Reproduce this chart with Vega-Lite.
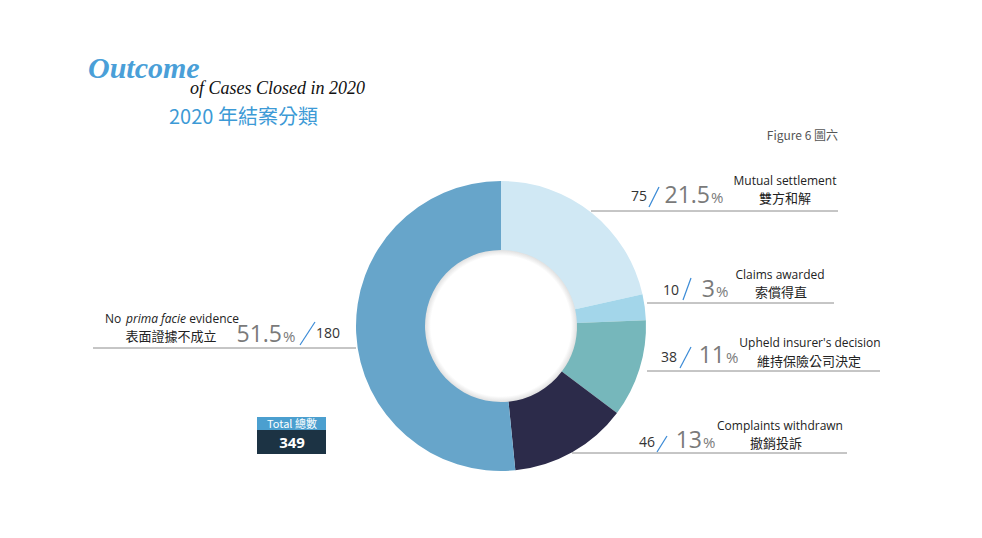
{
  "$schema": "https://vega.github.io/schema/vega-lite/v6.json",
  "width": 982,
  "height": 538,
  "padding": 0,
  "autosize": {"type": "fit", "contains": "padding"},
  "background": "white",
  "config": {"view": {"stroke": null}},
  "datasets": {
    "outcome": [
      {"idx": 1, "category": "Mutual settlement", "zh": "雙方和解", "count": 75, "pct": "21.5"},
      {"idx": 2, "category": "Claims awarded", "zh": "索償得直", "count": 10, "pct": "3"},
      {"idx": 3, "category": "Upheld insurer's decision", "zh": "維持保險公司決定", "count": 38, "pct": "11"},
      {"idx": 4, "category": "Complaints withdrawn", "zh": "撤銷投訴", "count": 46, "pct": "13"},
      {"idx": 5, "category": "No prima facie evidence", "zh": "表面證據不成立", "count": 180, "pct": "51.5"}
    ],
    "meta": [{"total": 349}]
  },
  "data": {"name": "outcome"},
  "layer": [
    {
      "data": {"name": "meta"},
      "mark": {"type": "arc", "x": 501, "y": 326, "radius": 78, "theta": 0, "theta2": 6.2832,
        "fill": {"gradient": "radial", "x1": 0.5, "y1": 0.5, "r1": 0, "x2": 0.5, "y2": 0.5, "r2": 0.5,
          "stops": [{"offset": 0, "color": "#ffffff"}, {"offset": 0.9, "color": "#ffffff"}, {"offset": 0.97, "color": "#e2e2e2"}, {"offset": 1, "color": "#cfcfcf"}]}},
      "encoding": {}
    },
    {
      "mark": {"type": "arc", "x": 501, "y": 326, "radius": 145, "innerRadius": 76},
      "encoding": {
        "theta": {"field": "count", "type": "quantitative", "stack": true},
        "order": {"field": "idx", "type": "quantitative", "sort": "ascending"},
        "color": {"field": "category", "type": "nominal", "legend": null,
          "scale": {"domain": ["Mutual settlement", "Claims awarded", "Upheld insurer's decision", "Complaints withdrawn", "No prima facie evidence"],
                    "range": ["#d0e8f4", "#a3d6ea", "#76b7bb", "#2c2b4a", "#67a5ca"]}}
      }
    },

    {"transform": [{"filter": "datum.idx==1"}], "mark": {"type": "rule", "stroke": "#8c8c8c", "strokeWidth": 1}, "encoding": {"x": {"value": 591}, "x2": {"value": 838}, "y": {"value": 211}, "y2": {"value": 211}}},
    {"transform": [{"filter": "datum.idx==1"}], "mark": {"type": "rule", "stroke": "#3a8ad6", "strokeWidth": 1.2}, "encoding": {"x": {"value": 649}, "x2": {"value": 659}, "y": {"value": 207}, "y2": {"value": 187}}},
    {"transform": [{"filter": "datum.idx==1"}], "mark": {"type": "text", "x": 647, "y": 201, "align": "right", "baseline": "alphabetic", "font": "Open Sans", "fontSize": 14, "fill": "#333333"}, "encoding": {"text": {"field": "count"}}},
    {"transform": [{"filter": "datum.idx==1"}], "mark": {"type": "text", "x": 710, "y": 203, "align": "right", "baseline": "alphabetic", "font": "Open Sans", "fontSize": 23, "fill": "#7a7a7a"}, "encoding": {"text": {"field": "pct"}}},
    {"transform": [{"filter": "datum.idx==1"}], "mark": {"type": "text", "x": 711, "y": 203, "align": "left", "baseline": "alphabetic", "font": "Open Sans", "fontSize": 15, "fill": "#7a7a7a", "text": "%"}, "encoding": {}},
    {"transform": [{"filter": "datum.idx==1"}], "mark": {"type": "text", "x": 785, "y": 185, "align": "center", "baseline": "alphabetic", "font": "Open Sans", "fontSize": 12, "fill": "#222222"}, "encoding": {"text": {"field": "category"}}},
    {"transform": [{"filter": "datum.idx==1"}], "mark": {"type": "text", "x": 785, "y": 203, "align": "center", "baseline": "alphabetic", "font": "Noto Sans CJK TC", "fontSize": 13, "fill": "#222222"}, "encoding": {"text": {"field": "zh"}}},

    {"transform": [{"filter": "datum.idx==2"}], "mark": {"type": "rule", "stroke": "#8c8c8c", "strokeWidth": 1}, "encoding": {"x": {"value": 647}, "x2": {"value": 834}, "y": {"value": 303}, "y2": {"value": 303}}},
    {"transform": [{"filter": "datum.idx==2"}], "mark": {"type": "rule", "stroke": "#3a8ad6", "strokeWidth": 1.2}, "encoding": {"x": {"value": 683}, "x2": {"value": 691}, "y": {"value": 300}, "y2": {"value": 278}}},
    {"transform": [{"filter": "datum.idx==2"}], "mark": {"type": "text", "x": 679, "y": 295, "align": "right", "baseline": "alphabetic", "font": "Open Sans", "fontSize": 14, "fill": "#333333"}, "encoding": {"text": {"field": "count"}}},
    {"transform": [{"filter": "datum.idx==2"}], "mark": {"type": "text", "x": 715, "y": 297, "align": "right", "baseline": "alphabetic", "font": "Open Sans", "fontSize": 23, "fill": "#7a7a7a"}, "encoding": {"text": {"field": "pct"}}},
    {"transform": [{"filter": "datum.idx==2"}], "mark": {"type": "text", "x": 716, "y": 297, "align": "left", "baseline": "alphabetic", "font": "Open Sans", "fontSize": 15, "fill": "#7a7a7a", "text": "%"}, "encoding": {}},
    {"transform": [{"filter": "datum.idx==2"}], "mark": {"type": "text", "x": 780, "y": 279, "align": "center", "baseline": "alphabetic", "font": "Open Sans", "fontSize": 12, "fill": "#222222"}, "encoding": {"text": {"field": "category"}}},
    {"transform": [{"filter": "datum.idx==2"}], "mark": {"type": "text", "x": 781, "y": 297, "align": "center", "baseline": "alphabetic", "font": "Noto Sans CJK TC", "fontSize": 13, "fill": "#222222"}, "encoding": {"text": {"field": "zh"}}},

    {"transform": [{"filter": "datum.idx==3"}], "mark": {"type": "rule", "stroke": "#8c8c8c", "strokeWidth": 1}, "encoding": {"x": {"value": 647}, "x2": {"value": 880}, "y": {"value": 371}, "y2": {"value": 371}}},
    {"transform": [{"filter": "datum.idx==3"}], "mark": {"type": "rule", "stroke": "#3a8ad6", "strokeWidth": 1.2}, "encoding": {"x": {"value": 680}, "x2": {"value": 691}, "y": {"value": 368}, "y2": {"value": 347}}},
    {"transform": [{"filter": "datum.idx==3"}], "mark": {"type": "text", "x": 677, "y": 362, "align": "right", "baseline": "alphabetic", "font": "Open Sans", "fontSize": 14, "fill": "#333333"}, "encoding": {"text": {"field": "count"}}},
    {"transform": [{"filter": "datum.idx==3"}], "mark": {"type": "text", "x": 725, "y": 363, "align": "right", "baseline": "alphabetic", "font": "Open Sans", "fontSize": 23, "fill": "#7a7a7a"}, "encoding": {"text": {"field": "pct"}}},
    {"transform": [{"filter": "datum.idx==3"}], "mark": {"type": "text", "x": 726, "y": 363, "align": "left", "baseline": "alphabetic", "font": "Open Sans", "fontSize": 15, "fill": "#7a7a7a", "text": "%"}, "encoding": {}},
    {"transform": [{"filter": "datum.idx==3"}], "mark": {"type": "text", "x": 810, "y": 347, "align": "center", "baseline": "alphabetic", "font": "Open Sans", "fontSize": 12, "fill": "#222222"}, "encoding": {"text": {"field": "category"}}},
    {"transform": [{"filter": "datum.idx==3"}], "mark": {"type": "text", "x": 809, "y": 366, "align": "center", "baseline": "alphabetic", "font": "Noto Sans CJK TC", "fontSize": 13, "fill": "#222222"}, "encoding": {"text": {"field": "zh"}}},

    {"transform": [{"filter": "datum.idx==4"}], "mark": {"type": "rule", "stroke": "#8c8c8c", "strokeWidth": 1}, "encoding": {"x": {"value": 572}, "x2": {"value": 847}, "y": {"value": 453}, "y2": {"value": 453}}},
    {"transform": [{"filter": "datum.idx==4"}], "mark": {"type": "rule", "stroke": "#3a8ad6", "strokeWidth": 1.2}, "encoding": {"x": {"value": 657}, "x2": {"value": 667}, "y": {"value": 452}, "y2": {"value": 436}}},
    {"transform": [{"filter": "datum.idx==4"}], "mark": {"type": "text", "x": 655, "y": 447, "align": "right", "baseline": "alphabetic", "font": "Open Sans", "fontSize": 14, "fill": "#333333"}, "encoding": {"text": {"field": "count"}}},
    {"transform": [{"filter": "datum.idx==4"}], "mark": {"type": "text", "x": 702, "y": 448, "align": "right", "baseline": "alphabetic", "font": "Open Sans", "fontSize": 23, "fill": "#7a7a7a"}, "encoding": {"text": {"field": "pct"}}},
    {"transform": [{"filter": "datum.idx==4"}], "mark": {"type": "text", "x": 703, "y": 448, "align": "left", "baseline": "alphabetic", "font": "Open Sans", "fontSize": 15, "fill": "#7a7a7a", "text": "%"}, "encoding": {}},
    {"transform": [{"filter": "datum.idx==4"}], "mark": {"type": "text", "x": 780, "y": 430, "align": "center", "baseline": "alphabetic", "font": "Open Sans", "fontSize": 12, "fill": "#222222"}, "encoding": {"text": {"field": "category"}}},
    {"transform": [{"filter": "datum.idx==4"}], "mark": {"type": "text", "x": 776, "y": 448, "align": "center", "baseline": "alphabetic", "font": "Noto Sans CJK TC", "fontSize": 13, "fill": "#222222"}, "encoding": {"text": {"field": "zh"}}},

    {"transform": [{"filter": "datum.idx==5"}], "mark": {"type": "rule", "stroke": "#8c8c8c", "strokeWidth": 1}, "encoding": {"x": {"value": 93}, "x2": {"value": 356}, "y": {"value": 348}, "y2": {"value": 348}}},
    {"transform": [{"filter": "datum.idx==5"}], "mark": {"type": "rule", "stroke": "#3a8ad6", "strokeWidth": 1.2}, "encoding": {"x": {"value": 300}, "x2": {"value": 315}, "y": {"value": 345}, "y2": {"value": 322}}},
    {"transform": [{"filter": "datum.idx==5"}], "mark": {"type": "text", "x": 316, "y": 338, "align": "left", "baseline": "alphabetic", "font": "Open Sans", "fontSize": 14, "fill": "#333333"}, "encoding": {"text": {"field": "count"}}},
    {"transform": [{"filter": "datum.idx==5"}], "mark": {"type": "text", "x": 282, "y": 342, "align": "right", "baseline": "alphabetic", "font": "Open Sans", "fontSize": 23, "fill": "#7a7a7a"}, "encoding": {"text": {"field": "pct"}}},
    {"transform": [{"filter": "datum.idx==5"}], "mark": {"type": "text", "x": 283, "y": 342, "align": "left", "baseline": "alphabetic", "font": "Open Sans", "fontSize": 15, "fill": "#7a7a7a", "text": "%"}, "encoding": {}},
    {"transform": [{"filter": "datum.idx==5"}], "mark": {"type": "text", "x": 105, "y": 323, "align": "left", "baseline": "alphabetic", "font": "Open Sans", "fontSize": 12, "fill": "#222222", "text": "No"}, "encoding": {}},
    {"transform": [{"filter": "datum.idx==5"}], "mark": {"type": "text", "x": 156, "y": 323, "align": "center", "baseline": "alphabetic", "font": "Open Sans", "fontStyle": "italic", "fontSize": 12, "fill": "#222222", "text": "prima facie"}, "encoding": {}},
    {"transform": [{"filter": "datum.idx==5"}], "mark": {"type": "text", "x": 239, "y": 323, "align": "right", "baseline": "alphabetic", "font": "Open Sans", "fontSize": 12, "fill": "#222222", "text": "evidence"}, "encoding": {}},
    {"transform": [{"filter": "datum.idx==5"}], "mark": {"type": "text", "x": 171, "y": 341, "align": "center", "baseline": "alphabetic", "font": "Noto Sans CJK TC", "fontSize": 13, "fill": "#222222"}, "encoding": {"text": {"field": "zh"}}},

    {"data": {"name": "meta"}, "mark": {"type": "rect", "x": 257, "x2": 326, "y": 417, "y2": 430, "fill": "#4b9fcf"}, "encoding": {}},
    {"data": {"name": "meta"}, "mark": {"type": "rect", "x": 257, "x2": 326, "y": 430, "y2": 454, "fill": "#1c3344"}, "encoding": {}},
    {"data": {"name": "meta"}, "mark": {"type": "text", "x": 292, "y": 428, "align": "center", "baseline": "alphabetic", "font": "Noto Sans CJK TC", "fontSize": 11, "fill": "#ffffff", "text": "Total 總數"}, "encoding": {}},
    {"data": {"name": "meta"}, "mark": {"type": "text", "x": 292, "y": 448, "align": "center", "baseline": "alphabetic", "font": "Open Sans", "fontWeight": "bold", "fontSize": 15, "fill": "#ffffff"}, "encoding": {"text": {"field": "total"}}},

    {"data": {"name": "meta"}, "mark": {"type": "text", "x": 838, "y": 140, "align": "right", "baseline": "alphabetic", "font": "Noto Sans CJK TC", "fontSize": 12, "fill": "#555555", "text": "Figure 6 圖六"}, "encoding": {}},
    {"data": {"name": "meta"}, "mark": {"type": "text", "x": 88, "y": 78, "align": "left", "baseline": "alphabetic", "font": "Liberation Serif", "fontStyle": "italic", "fontWeight": "bold", "fontSize": 30, "fill": "#4a9fd8", "text": "Outcome"}, "encoding": {}},
    {"data": {"name": "meta"}, "mark": {"type": "text", "x": 190, "y": 94, "align": "left", "baseline": "alphabetic", "font": "Liberation Serif", "fontStyle": "italic", "fontSize": 18, "fill": "#111111", "text": "of Cases Closed in 2020"}, "encoding": {}},
    {"data": {"name": "meta"}, "mark": {"type": "text", "x": 169, "y": 124, "align": "left", "baseline": "alphabetic", "font": "Noto Sans CJK TC", "fontSize": 20, "fill": "#3d9ad6", "text": "2020 年結案分類"}, "encoding": {}}
  ]
}
